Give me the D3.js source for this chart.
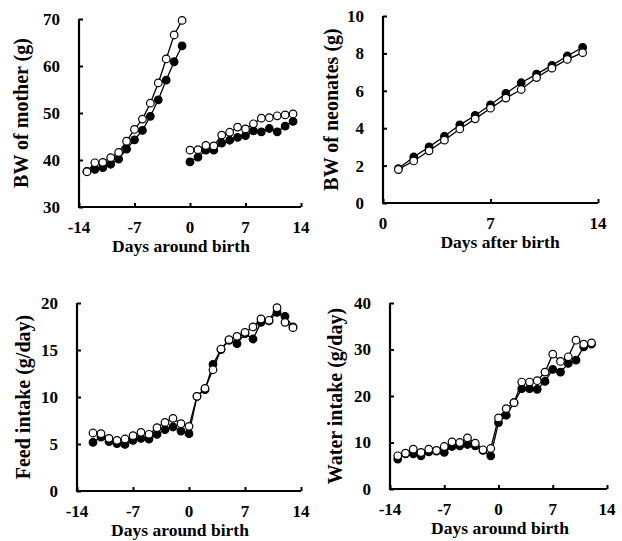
<!DOCTYPE html>
<html lang="en">
<head>
<meta charset="UTF-8">
<title>Mother and neonate growth</title>
<script src="https://d3js.org/d3.v7.min.js"></script>
<style>
  body { margin: 0; background: #fff; }
  text { font-family: "Liberation Serif", "Times New Roman", serif; font-weight: bold; fill: #000; }
</style>
</head>
<body>
<div id="chart"></div>
<script>
// ---- data ----
var momPreDays   = [-13, -12, -11, -10, -9, -8, -7, -6, -5, -4, -3, -2, -1];
var momPreFilled = [37.6, 38.0, 38.4, 39.1, 40.2, 42.3, 44.3, 46.3, 49.3, 52.8, 57.0, 60.9, 64.3];
var momPreOpen   = [37.5, 39.4, 39.5, 40.5, 41.6, 44.0, 46.5, 48.7, 52.1, 56.4, 61.5, 66.6, 69.7];
var momPostDays   = [0, 1, 2, 3, 4, 5, 6, 7, 8, 9, 10, 11, 12, 13];
var momPostFilled = [39.6, 40.6, 42.1, 42.1, 43.6, 44.2, 44.8, 45.2, 46.2, 46.0, 46.7, 46.0, 47.2, 48.2];
var momPostOpen   = [42.1, 42.2, 43.1, 43.0, 45.3, 45.9, 47.0, 46.6, 47.7, 48.9, 49.0, 49.4, 49.6, 49.8];

var neoDays   = [1, 2, 3, 4, 5, 6, 7, 8, 9, 10, 11, 12, 13];
var neoFilled = [1.84, 2.46, 3.0, 3.57, 4.18, 4.68, 5.25, 5.86, 6.43, 6.89, 7.36, 7.86, 8.32];
var neoOpen   = [1.79, 2.25, 2.79, 3.36, 3.96, 4.5, 5.07, 5.61, 6.07, 6.71, 7.21, 7.68, 8.04];

var feedDays   = [-12, -11, -10, -9, -8, -7, -6, -5, -4, -3, -2, -1, 0, 1, 2, 3, 4, 5, 6, 7, 8, 9, 10, 11, 12, 13];
var feedFilled = [5.18, 5.74, 5.25, 5.04, 4.96, 5.39, 5.6, 5.53, 6.03, 6.52, 6.81, 6.38, 6.1,
                  10.07, 10.78, 13.48, 15.04, 16.03, 15.67, 16.74, 16.17, 17.94, 18.09, 19.0, 18.58, 17.45];
var feedOpen   = [6.17, 6.1, 5.6, 5.39, 5.53, 5.89, 6.24, 6.03, 6.74, 7.3, 7.73, 7.16, 6.88,
                  10.07, 10.92, 12.9, 15.1, 16.1, 16.45, 16.88, 17.45, 18.3, 18.16, 19.5, 17.94, 17.38];

var waterDays   = [-13, -12, -11, -10, -9, -8, -7, -6, -5, -4, -3, -2, -1, 0, 1, 2, 3, 4, 5, 6, 7, 8, 9, 10, 11, 12];
var waterFilled = [6.43, 7.57, 7.57, 7.14, 8.0, 8.14, 7.86, 9.14, 9.29, 9.57, 9.29, 8.29, 7.14,
                   14.29, 15.86, 18.57, 21.57, 21.57, 21.43, 23.14, 25.71, 25.14, 27.0, 27.71, 30.57, 31.14];
var waterOpen   = [7.14, 7.7, 8.57, 7.86, 8.57, 8.29, 9.14, 10.14, 10.0, 11.0, 9.86, 8.43, 8.71,
                   15.29, 17.29, 18.57, 23.0, 23.0, 23.29, 25.14, 29.0, 27.43, 28.43, 32.0, 31.14, 31.43];

var aroundTicks = [-14, -7, 0, 7, 14];
var afterTicks  = [0, 7, 14];

// ---- layout ----
var svg = d3.select("#chart").append("svg")
    .attr("width", 622)
    .attr("height", 541);

function zip(days, vals) {
    return days.map(function(d, i) { return { x: d, y: vals[i] }; });
}

function drawPanel(p) {
    var x = d3.scaleLinear().domain(p.xDomain).range([p.left, p.right]);
    var y = d3.scaleLinear().domain(p.yDomain).range([p.bottom, p.top]);
    var g = svg.append("g");

    // axes, ticks pointing inward
    var xAxis = g.append("g")
        .attr("transform", "translate(0," + p.bottom + ")")
        .call(d3.axisTop(x).tickValues(p.xTicks).tickSize(4).tickFormat(""));
    var yAxis = g.append("g")
        .attr("transform", "translate(" + p.left + ",0)")
        .call(d3.axisRight(y).tickValues(p.yTicks).tickSize(4).tickFormat(""));
    [xAxis, yAxis].forEach(function(a) {
        a.select(".domain").remove();
        a.selectAll("line").attr("stroke", "#000").attr("stroke-width", 2);
    });
    g.append("path")
        .attr("d", "M" + p.left + "," + p.top + "V" + p.bottom + "H" + p.right)
        .attr("fill", "none")
        .attr("stroke", "#000")
        .attr("stroke-width", 2.2);

    // tick labels
    g.selectAll(".xl").data(p.xTicks).enter().append("text")
        .attr("x", function(d) { return x(d); })
        .attr("y", p.bottom + 26)
        .attr("text-anchor", "middle")
        .style("font-size", "17px")
        .text(function(d) { return d; });
    g.selectAll(".yl").data(p.yTicks).enter().append("text")
        .attr("x", p.left - 19)
        .attr("y", function(d) { return y(d); })
        .attr("dy", "0.35em")
        .attr("text-anchor", "end")
        .style("font-size", "17px")
        .text(function(d) { return d; });

    // titles
    g.append("text")
        .attr("x", p.xTitleX)
        .attr("y", p.bottom + 45)
        .attr("text-anchor", "middle")
        .style("font-size", "17.5px")
        .text(p.xTitle);
    g.append("text")
        .attr("transform", "translate(" + p.yTitleX + "," + (p.top + p.bottom) / 2 + ") rotate(-90)")
        .attr("text-anchor", "middle")
        .attr("dy", "0.35em")
        .style("font-size", "20px")
        .text(p.yTitle);

    var line = d3.line().x(function(d) { return x(d.x); }).y(function(d) { return y(d.y); });

    // filled series first, open circles on top
    [["filled", "#000"], ["open", "#fff"]].forEach(function(s) {
        p.segments.forEach(function(seg) {
            var pts = seg[s[0]];
            g.append("path")
                .datum(pts)
                .attr("d", line)
                .attr("fill", "none")
                .attr("stroke", "#000")
                .attr("stroke-width", 1.3);
            g.selectAll(null).data(pts).enter().append("circle")
                .attr("cx", function(d) { return x(d.x); })
                .attr("cy", function(d) { return y(d.y); })
                .attr("r", 3.8)
                .attr("fill", s[1])
                .attr("stroke", "#000")
                .attr("stroke-width", 1.2);
        });
    });
}

drawPanel({
    left: 79, right: 301, top: 19, bottom: 207,
    xDomain: [-14, 14], yDomain: [30, 70],
    xTicks: aroundTicks, yTicks: [30, 40, 50, 60, 70],
    xTitle: "Days around birth", xTitleX: 181,
    yTitle: "BW of mother (g)", yTitleX: 21,
    segments: [
        { filled: zip(momPreDays, momPreFilled), open: zip(momPreDays, momPreOpen) },
        { filled: zip(momPostDays, momPostFilled), open: zip(momPostDays, momPostOpen) }
    ]
});

drawPanel({
    left: 383, right: 598, top: 16, bottom: 203,
    xDomain: [0, 14], yDomain: [0, 10],
    xTicks: afterTicks, yTicks: [0, 2, 4, 6, 8, 10],
    xTitle: "Days after birth", xTitleX: 500,
    yTitle: "BW of neonates (g)", yTitleX: 331,
    segments: [
        { filled: zip(neoDays, neoFilled), open: zip(neoDays, neoOpen) }
    ]
});

drawPanel({
    left: 77, right: 301, top: 303, bottom: 491,
    xDomain: [-14, 14], yDomain: [0, 20],
    xTicks: aroundTicks, yTicks: [0, 5, 10, 15, 20],
    xTitle: "Days around birth", xTitleX: 180,
    yTitle: "Feed intake (g/day)", yTitleX: 23,
    segments: [
        { filled: zip(feedDays, feedFilled), open: zip(feedDays, feedOpen) }
    ]
});

drawPanel({
    left: 390, right: 607, top: 303, bottom: 489,
    xDomain: [-14, 14], yDomain: [0, 40],
    xTicks: aroundTicks, yTicks: [0, 10, 20, 30, 40],
    xTitle: "Days around birth", xTitleX: 500,
    yTitle: "Water intake (g/day)", yTitleX: 335,
    segments: [
        { filled: zip(waterDays, waterFilled), open: zip(waterDays, waterOpen) }
    ]
});
</script>
</body>
</html>
